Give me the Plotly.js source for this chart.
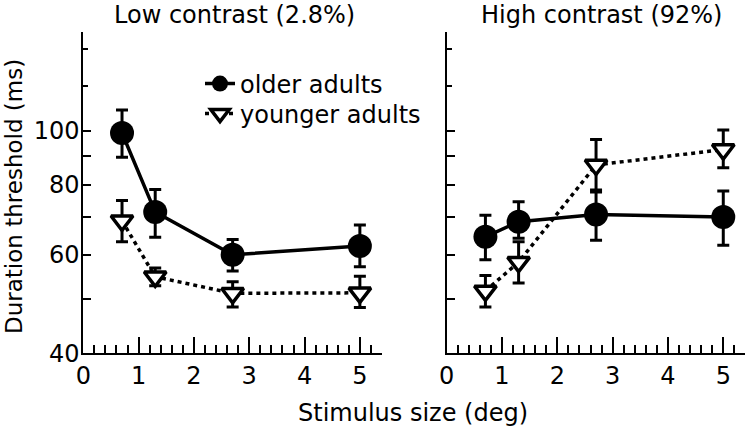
<!DOCTYPE html>
<html>
<head>
<meta charset="utf-8">
<script src="https://cdn.plot.ly/plotly-3.0.1.min.js"></script>
<style>html,body{margin:0;padding:0;background:#fff;}#chart{width:750px;height:431px;}</style>
</head>
<body>
<div id="chart"></div>
<script>
// ---- data ----
const sizes = [0.7, 1.3, 2.7, 5];
const seriesNames = ["older adults", "younger adults"];
const panelTitles = ["Low contrast (2.8%)", "High contrast (92%)"];

// Low contrast (2.8%)
const lowOlder = [99, 71.5, 60, 62.2];
const lowOlderErrUp = [9.8, 7, 3.9, 5.6];
const lowOlderErrDown = [9.4, 7, 3.9, 5.1];
const lowYounger = [69, 54.8, 51.2, 51.3];
const lowYoungerErrUp = [6, 2, 2.5, 3.6];
const lowYoungerErrDown = [5.7, 2, 2.8, 3];

// High contrast (92%)
const highOlder = [64.6, 68.7, 70.8, 70.1];
const highOlderErrUp = [6, 5.9, 7.5, 7.9];
const highOlderErrDown = [5.8, 4.5, 7.1, 7.7];
const highYounger = [51.7, 58.2, 86.8, 92.5];
const highYoungerErrUp = [3.4, 5.1, 9.6, 7.7];
const highYoungerErrDown = [3.3, 4.8, 9.1, 6.7];

// axis ticks
const xTickVals = [0, 1, 2, 3, 4, 5];
const yTickVals = [40, 50, 60, 70, 80, 90, 100];
const yTickText = ["40", "", "60", "", "80", "", "100"];
const yMinorVals = [120, 140];
const yLongTick = [100];
const yLabel = "Duration threshold (ms)";
const xLabel = "Stimulus size (deg)";

// ---- styling ----
const FONT = "DejaVu Sans, sans-serif";
const W = 750, H = 431;
const px = v => v / W;
const py = v => (H - v) / H;

function olderTrace(y, up, down, xa, ya, show) {
  return {
    x: sizes, y: y, xaxis: xa, yaxis: ya, type: "scatter", mode: "lines+markers",
    name: seriesNames[0], showlegend: show, legend: "legend",
    line: {color: "#000", width: 3.5},
    marker: {symbol: "circle", size: 24, color: "#000", line: {width: 0}},
    error_y: {type: "data", symmetric: false, array: up, arrayminus: down,
              color: "#000", thickness: 3, width: 6}
  };
}
function youngerTrace(y, up, down, xa, ya, show) {
  return {
    x: sizes, y: y, xaxis: xa, yaxis: ya, type: "scatter", mode: "lines+markers",
    name: seriesNames[1], showlegend: show, legend: "legend2",
    line: {color: "#000", width: 3.5, dash: "4px,4px"},
    marker: {symbol: "triangle-down", size: 19, color: "#fff", line: {color: "#000", width: 3.5}},
    error_y: {type: "data", symmetric: false, array: up, arrayminus: down,
              color: "#000", thickness: 3, width: 6}
  };
}

const data = [
  olderTrace(lowOlder, lowOlderErrUp, lowOlderErrDown, "x", "y", true),
  youngerTrace(lowYounger, lowYoungerErrUp, lowYoungerErrDown, "x", "y", true),
  olderTrace(highOlder, highOlderErrUp, highOlderErrDown, "x2", "y2", false),
  youngerTrace(highYounger, highYoungerErrUp, highYoungerErrDown, "x2", "y2", false)
];

const yRange = [Math.log10(40), Math.log10(150)];
const yDomain = [py(353.3), py(32)];

function xAxis(domain, anchor) {
  return {
    domain: domain, anchor: anchor, range: [0, 5.4], showgrid: false, zeroline: false,
    showline: true, linewidth: 2, linecolor: "#000",
    tickmode: "array", tickvals: xTickVals, ticks: "inside", ticklen: 16, tickwidth: 2, tickcolor: "#000",
    minor: {dtick: 0.2, tick0: 0, ticks: "inside", ticklen: 8, tickwidth: 2, tickcolor: "#000", showgrid: false},
    tickfont: {family: FONT, size: 24, color: "#000"}, fixedrange: true
  };
}
function yAxis(anchor, showLabels) {
  return {
    domain: yDomain, anchor: anchor, type: "log", range: yRange, showgrid: false, zeroline: false,
    showline: true, linewidth: 2, linecolor: "#000",
    tickmode: "array", tickvals: yTickVals, ticktext: yTickText, ticks: "inside", ticklen: 8, tickwidth: 2, tickcolor: "#000",
    minor: {tickmode: "array", tickvals: yMinorVals, ticks: "inside", ticklen: 5, tickwidth: 2, tickcolor: "#000", showgrid: false},
    showticklabels: showLabels, ticklabelstandoff: -3,
    tickfont: {family: FONT, size: 24, color: "#000"}, fixedrange: true
  };
}
function yOverlay(over, anchor) {
  return {
    overlaying: over, anchor: anchor, type: "log", range: yRange, domain: yDomain,
    showgrid: false, zeroline: false, showline: false,
    tickmode: "array", tickvals: yLongTick, ticks: "inside", ticklen: 16, tickwidth: 2, tickcolor: "#000",
    showticklabels: false, fixedrange: true
  };
}

const layout = {
  width: W, height: H,
  margin: {l: 0, r: 0, t: 0, b: 0},
  paper_bgcolor: "#fff", plot_bgcolor: "rgba(0,0,0,0)",
  font: {family: FONT, size: 24, color: "#000"},
  xaxis: xAxis([px(83.3), px(382)], "y"),
  yaxis: yAxis("x", true),
  xaxis2: xAxis([px(446.7), px(745.4)], "y2"),
  yaxis2: yAxis("x2", false),
  yaxis3: yOverlay("y", "x"),
  yaxis4: yOverlay("y2", "x2"),
  legend: {x: px(200), y: py(84), xanchor: "left", yanchor: "middle", bgcolor: "rgba(0,0,0,0)",
           font: {family: FONT, size: 24, color: "#000"}, borderwidth: 0},
  legend2: {x: px(200), y: py(114), xanchor: "left", yanchor: "middle", bgcolor: "rgba(0,0,0,0)",
            font: {family: FONT, size: 24, color: "#000"}, borderwidth: 0},
  annotations: [
    {text: panelTitles[0], xref: "paper", yref: "paper", x: px(234.5), y: py(15), xanchor: "center", yanchor: "middle",
     showarrow: false, font: {family: FONT, size: 24, color: "#000"}},
    {text: panelTitles[1], xref: "paper", yref: "paper", x: px(601.7), y: py(15), xanchor: "center", yanchor: "middle",
     showarrow: false, font: {family: FONT, size: 24, color: "#000"}},
    {text: xLabel, xref: "paper", yref: "paper", x: px(413), y: py(413), xanchor: "center", yanchor: "middle",
     showarrow: false, font: {family: FONT, size: 24, color: "#000"}},
    {text: yLabel, xref: "paper", yref: "paper", x: px(14), y: py(197), xanchor: "center", yanchor: "middle",
     textangle: -90, showarrow: false, font: {family: FONT, size: 23, color: "#000"}}
  ]
};

Plotly.newPlot("chart", data, layout, {staticPlot: true, displayModeBar: false});
</script>
</body>
</html>
